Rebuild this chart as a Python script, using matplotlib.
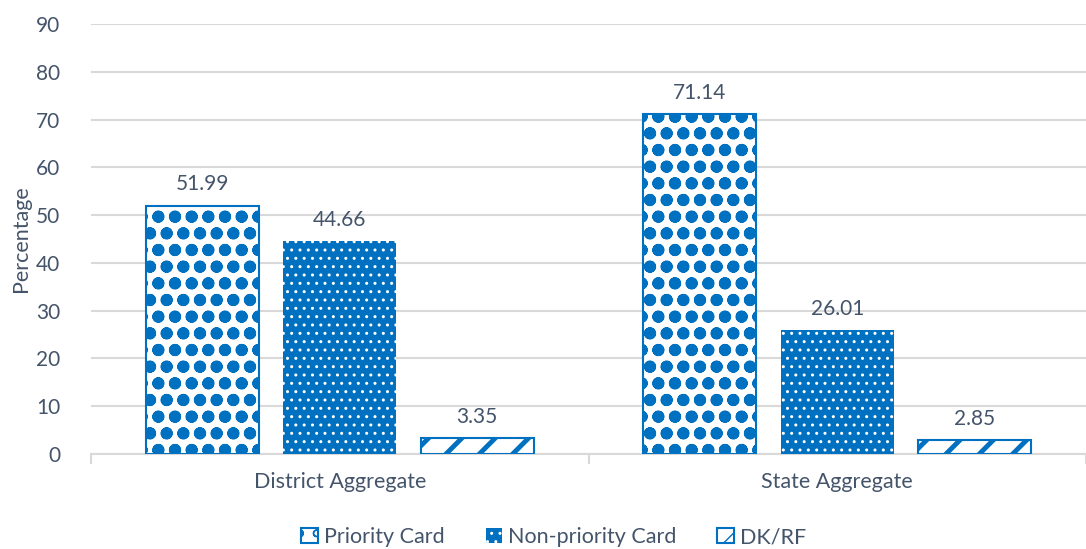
import numpy as np
import matplotlib.pyplot as plt

plt.rcParams['font.family'] = ['Lato', 'DejaVu Sans']

categories = ['District Aggregate', 'State Aggregate']
series = ['Priority Card', 'Non-priority Card', 'DK/RF']
values = {
    'Priority Card': [51.99, 71.14],
    'Non-priority Card': [44.66, 26.01],
    'DK/RF': [3.35, 2.85],
}

blue = '#0070C0'
txt = '#44546A'
grid = '#D9D9D9'

# hatch style per series: (face, edge, hatch, hatch linewidth)
styles = {
    'Priority Card': ('white', blue, 'o', 4.0),
    'Non-priority Card': (blue, 'white', '..', 1.0),
    'DK/RF': ('white', blue, '/', 3.5),
}

fig = plt.figure(figsize=(10.86, 5.49), dpi=100)
ax = fig.add_axes([91 / 1086, 95 / 549, 995 / 1086, 430 / 549])

x = np.arange(len(categories))
width = 0.227
step = 0.276

handles = []
for i, name in enumerate(series):
    face, edge, hatch, hlw = styles[name]
    with plt.rc_context({'hatch.linewidth': hlw}):
        bars = ax.bar(x + (i - 1) * step, values[name], width, facecolor=face,
                      edgecolor=edge, hatch=hatch, linewidth=0 if face == blue else 1.5,
                      label=name, zorder=3)
    for b in bars:
        try:
            b.set_hatch_linewidth(hlw)
        except AttributeError:
            pass
    handles.append(bars)
    for b, v in zip(bars, values[name]):
        ax.annotate(f'{v:.2f}', (b.get_x() + b.get_width() / 2, v),
                    xytext=(0, 8), textcoords='offset points', ha='center',
                    va='bottom', fontsize=15, color=txt)

ax.set_ylim(0, 90)
ax.set_yticks(range(0, 91, 10))
ax.set_xlim(-0.5, 1.478)
ax.set_xticks([-0.5, 0.5, 1.5])
ax.set_xticklabels([])
ax.set_xticks(x, minor=True)
ax.set_xticklabels(categories, minor=True, fontsize=15.5, color=txt)
ax.tick_params(axis='x', which='minor', length=0, pad=13)
ax.tick_params(axis='x', which='major', length=7, width=1.5, color=grid)
ax.tick_params(axis='y', length=0, labelsize=15, labelcolor=txt, pad=22)

ax.grid(axis='y', color=grid, linewidth=1.5, zorder=0)
for s in ['top', 'right', 'left']:
    ax.spines[s].set_visible(False)
ax.spines['bottom'].set_color(grid)
ax.spines['bottom'].set_linewidth(1.5)

ax.set_ylabel('Percentage', fontsize=15.5, color=txt, labelpad=4)

fig.legend(handles=handles, labels=series, loc='center', bbox_to_anchor=(0.51, 12 / 549),
           ncol=3, frameon=False, fontsize=15.5, labelcolor=txt, handlelength=0.75,
           handleheight=0.75, handletextpad=0.3, columnspacing=1.9)

fig.savefig('out.png', dpi=100)
